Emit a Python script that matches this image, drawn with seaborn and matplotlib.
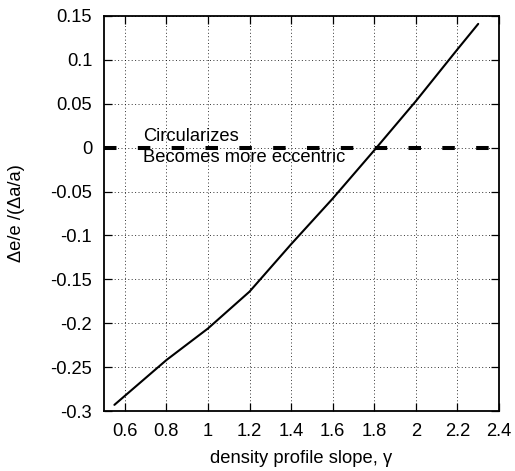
import matplotlib
matplotlib.use("Agg")
import matplotlib.pyplot as plt
import seaborn as sns
import pandas as pd

# ---- data ----
gamma = [0.55, 0.8, 1.0, 1.2, 1.4, 1.6, 1.8, 2.0, 2.2, 2.3]
de_over_da = [-0.293, -0.242, -0.206, -0.164, -0.110, -0.058, -0.003, 0.053, 0.112, 0.141]

x_ticks = [0.6, 0.8, 1.0, 1.2, 1.4, 1.6, 1.8, 2.0, 2.2, 2.4]
x_tick_labels = ["0.6", "0.8", "1", "1.2", "1.4", "1.6", "1.8", "2", "2.2", "2.4"]
y_ticks = [0.15, 0.1, 0.05, 0.0, -0.05, -0.1, -0.15, -0.2, -0.25, -0.3]
y_tick_labels = ["0.15", "0.1", "0.05", "0", "-0.05", "-0.1", "-0.15", "-0.2", "-0.25", "-0.3"]
x_limits = [0.5, 2.4]
y_limits = [-0.3, 0.15]

label_up = "Circularizes"
label_down = "Becomes more eccentric"
x_label = "density profile slope, \u03b3"
y_label = "\u0394e/e /(\u0394a/a)"

df = pd.DataFrame({"gamma": gamma, "ratio": de_over_da})

sns.set_style("ticks")
plt.rcParams["font.family"] = ["Liberation Sans", "DejaVu Sans"]
plt.rcParams["text.color"] = "black"
plt.rcParams["axes.labelcolor"] = "black"
plt.rcParams["xtick.color"] = "black"
plt.rcParams["ytick.color"] = "black"
FS = 13.2

fig = plt.figure(figsize=(5.15, 4.71), dpi=100)
ax = fig.add_axes([104 / 515, 1 - 411 / 471, 395 / 515, 395 / 471])

# grid
ax.set_xticks(x_ticks)
ax.set_yticks(y_ticks)
ax.grid(True, color="black", linewidth=0.7, linestyle=(0, (1, 2.5)), alpha=0.8)
ax.set_axisbelow(True)

# zero line (thick dashed)
zl = ax.axhline(0, color="black", linewidth=2.9, zorder=3)
zl.set_dashes([3.1, 5.3])
zl.set_dash_capstyle("butt")

sns.lineplot(data=df, x="gamma", y="ratio", color="black", linewidth=1.5,
             ax=ax, zorder=4, estimator=None, sort=False)

ax.text(0.689, 0.0079, label_up, fontsize=FS, ha="left", va="baseline", zorder=5)
ax.text(0.689, -0.0167, label_down, fontsize=FS, ha="left", va="baseline", zorder=5)

ax.set_xlim(*x_limits)
ax.set_ylim(*y_limits)
ax.set_xticklabels(x_tick_labels)
ax.set_yticklabels(y_tick_labels)

ax.tick_params(axis="both", which="major", direction="in", length=5.8, width=0.9,
               top=True, right=True, labelsize=FS, pad=8.5, color="black",
               labelcolor="black")
for s in ax.spines.values():
    s.set_visible(True)
    s.set_linewidth(1.3)
    s.set_color("black")

ax.set_xlabel(x_label, fontsize=FS, va="center", color="black")
ax.xaxis.set_label_coords(0.5, -0.119)
ax.set_ylabel(y_label, fontsize=FS, va="center", color="black")
ax.yaxis.set_label_coords(-0.221, 0.5)

fig.savefig("out.png", dpi=100)
